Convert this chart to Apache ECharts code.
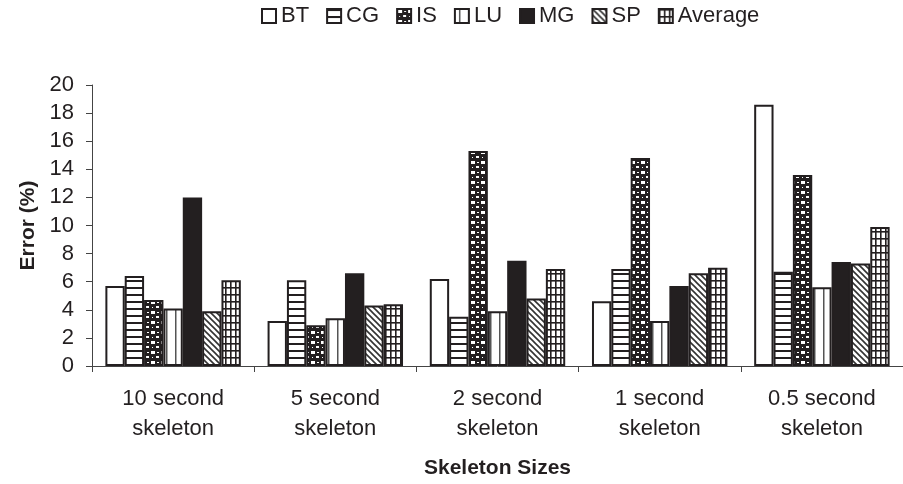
<!DOCTYPE html>
<html>
<head>
<meta charset="utf-8">
<script src="https://cdn.jsdelivr.net/npm/echarts@6/dist/echarts.min.js"></script>
<style>
  html, body { margin: 0; padding: 0; background: #fff; }
  #chart { width: 903px; height: 484px; }
</style>
</head>
<body>
<div id="chart"></div>
<script>
// Error (%) per benchmark for each skeleton size
const categories = ['10 second\nskeleton', '5 second\nskeleton', '2 second\nskeleton', '1 second\nskeleton', '0.5 second\nskeleton'];
const seriesNames = ['BT', 'CG', 'IS', 'LU', 'MG', 'SP', 'Average'];
const BT  = [5.7, 3.2, 6.2, 4.6, 18.6];
const CG  = [6.4, 6.1, 3.5, 6.9, 6.7];
const IS  = [4.7, 2.9, 15.3, 14.8, 13.6];
const LU  = [4.1, 3.4, 3.9, 3.2, 5.6];
const MG  = [12.0, 6.6, 7.5, 5.7, 7.4];
const SP  = [3.9, 4.3, 4.8, 6.6, 7.3];
const AVG = [6.1, 4.4, 6.9, 7.0, 9.9];
const yMin = 0, yMax = 20, yStep = 2;

const INK = '#231f20';
const FONT = '"Liberation Sans", Arial, sans-serif';

// Monochrome fill patterns drawn on small tiles
function tile(w, h, draw) {
  const c = document.createElement('canvas');
  c.width = w; c.height = h;
  const g = c.getContext('2d');
  g.fillStyle = '#fff';
  g.fillRect(0, 0, w, h);
  draw(g, w, h);
  return { image: c, repeat: 'repeat' };
}
const fills = {
  BT: '#ffffff',
  CG: tile(7, 7, (g, w) => { g.fillStyle = INK; g.fillRect(0, 0, w, 2); }),
  IS: tile(10, 10, (g) => {
    g.fillStyle = INK; g.fillRect(0, 0, 10, 10);
    g.fillStyle = '#fff';
    g.fillRect(1, 1, 4, 3);
    g.fillRect(7, 2, 2, 1);
    g.fillRect(6, 6, 3, 2);
    g.fillRect(2, 7, 1, 1);
  }),
  LU: tile(9, 4, (g) => { g.fillStyle = '#555'; g.fillRect(4, 0, 1.5, 4); }),
  MG: INK,
  SP: tile(6, 6, (g) => {
    g.strokeStyle = '#333'; g.lineWidth = 1.6;
    g.beginPath();
    g.moveTo(-1, -1); g.lineTo(7, 7);
    g.moveTo(-4, 2); g.lineTo(2, 8);
    g.moveTo(2, -4); g.lineTo(8, 2);
    g.stroke();
  }),
  Average: tile(5, 7, (g, w, h) => {
    g.fillStyle = INK;
    g.fillRect(0, 0, w, 1.6);
    g.fillRect(0, 0, 1.6, h);
  })
};

const values = { BT, CG, IS, LU, MG, SP, Average: AVG };

const chart = echarts.init(document.getElementById('chart'), null, { renderer: 'canvas' });
chart.setOption({
  backgroundColor: '#ffffff',
  animation: false,
  textStyle: { fontFamily: FONT, color: INK },
  legend: {
    top: 0,
    left: 256,
    icon: 'rect',
    itemWidth: 14,
    itemHeight: 14,
    itemGap: 17,
    textStyle: { fontSize: 22, color: INK, fontFamily: FONT },
    data: seriesNames
  },
  grid: { left: 92, right: -5, top: 85, bottom: 115, containLabel: false },
  xAxis: {
    type: 'category',
    data: categories,
    name: 'Skeleton Sizes',
    nameLocation: 'middle',
    nameGap: 92,
    nameTextStyle: { fontSize: 21, fontWeight: 'bold', color: INK, fontFamily: FONT },
    axisLine: { lineStyle: { color: '#444', width: 1 } },
    axisTick: { show: true, length: 6, lineStyle: { color: '#444' } },
    axisLabel: { fontSize: 22, color: INK, lineHeight: 30, margin: 18, fontFamily: FONT }
  },
  yAxis: {
    type: 'value',
    min: yMin, max: yMax, interval: yStep,
    name: 'Error (%)',
    nameLocation: 'middle',
    nameGap: 53,
    nameTextStyle: { fontSize: 21, fontWeight: 'bold', color: INK, fontFamily: FONT },
    axisLine: { show: true, lineStyle: { color: '#444', width: 1 } },
    axisTick: { show: true, length: 6, lineStyle: { color: '#444' } },
    splitLine: { show: false },
    axisLabel: { fontSize: 22, color: INK, margin: 18, fontFamily: FONT }
  },
  series: seriesNames.map((name) => ({
    name,
    type: 'bar',
    data: values[name],
    barGap: '0%',
    barCategoryGap: '16.5%',
    itemStyle: { color: fills[name], borderColor: INK, borderWidth: 2 }
  }))
});
</script>
</body>
</html>
